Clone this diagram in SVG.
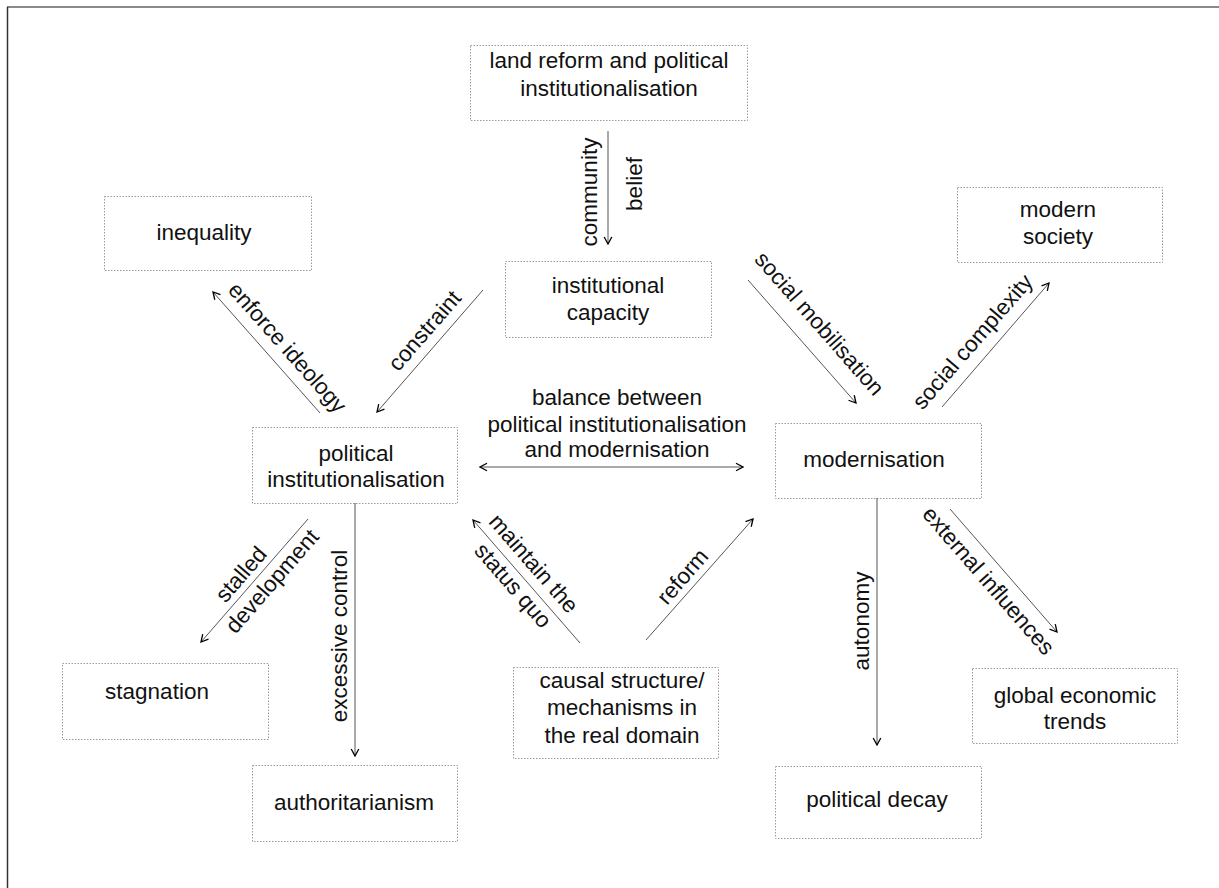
<svg xmlns="http://www.w3.org/2000/svg" width="1219" height="888" viewBox="0 0 1219 888">
  <style>
    .box { fill: #fff; stroke: #9a9a9a; stroke-width: 1; stroke-dasharray: 1.5 1.5; }
    .lbl { font-family: "Liberation Sans", Arial, sans-serif; font-size: 22.5px; fill: #111; text-anchor: middle; }
    .edge { fill: none; stroke: #555; stroke-width: 1; }
    .frame-top { stroke: #8a8a8a; stroke-width: 2; }
    .frame-left { stroke: #333; stroke-width: 1.5; }
  </style>
  <defs>
    <marker id="arr" markerWidth="10" markerHeight="10" refX="9" refY="5" orient="auto-start-reverse" markerUnits="userSpaceOnUse">
      <path d="M2,1.2 L9,5 L2,8.8" fill="none" stroke="#000" stroke-width="1.3"/>
    </marker>
  </defs>

  <rect x="0" y="0" width="1219" height="888" fill="#fff"/>

  <!-- page frame (top and left rules) -->
  <g id="frame">
    <line class="frame-top" x1="7" y1="7" x2="1219" y2="7"/>
    <line class="frame-left" x1="7.5" y1="7" x2="7.5" y2="888"/>
  </g>

  <!-- nodes -->
  <g id="land-reform">
    <rect class="box" x="470.5" y="45.5" width="277" height="75"/>
    <text class="lbl" x="609" y="68">land reform and political</text>
    <text class="lbl" x="609" y="96">institutionalisation</text>
  </g>
  <g id="inequality">
    <rect class="box" x="104.5" y="196.5" width="207" height="74"/>
    <text class="lbl" x="204" y="240">inequality</text>
  </g>
  <g id="institutional-capacity">
    <rect class="box" x="505.5" y="261.5" width="206" height="76"/>
    <text class="lbl" x="608" y="293">institutional</text>
    <text class="lbl" x="608" y="320">capacity</text>
  </g>
  <g id="modern-society">
    <rect class="box" x="957.5" y="187.5" width="205" height="75"/>
    <text class="lbl" x="1058" y="217">modern</text>
    <text class="lbl" x="1058" y="244">society</text>
  </g>
  <g id="political-institutionalisation">
    <rect class="box" x="252.5" y="427.5" width="205" height="76"/>
    <text class="lbl" x="356" y="461">political</text>
    <text class="lbl" x="356" y="487">institutionalisation</text>
  </g>
  <g id="modernisation">
    <rect class="box" x="775.5" y="423.5" width="206" height="75"/>
    <text class="lbl" x="874" y="467">modernisation</text>
  </g>
  <g id="stagnation">
    <rect class="box" x="62.5" y="663.5" width="206" height="76"/>
    <text class="lbl" x="157" y="699">stagnation</text>
  </g>
  <g id="authoritarianism">
    <rect class="box" x="252.5" y="765.5" width="205" height="76"/>
    <text class="lbl" x="354" y="810">authoritarianism</text>
  </g>
  <g id="causal-structure">
    <rect class="box" x="513.5" y="667.5" width="205" height="91"/>
    <text class="lbl" x="622" y="688">causal structure/</text>
    <text class="lbl" x="622" y="715">mechanisms in</text>
    <text class="lbl" x="622" y="743">the real domain</text>
  </g>
  <g id="global-economic-trends">
    <rect class="box" x="972.5" y="668.5" width="205" height="75"/>
    <text class="lbl" x="1075" y="703">global economic</text>
    <text class="lbl" x="1075" y="729">trends</text>
  </g>
  <g id="political-decay">
    <rect class="box" x="775.5" y="766.5" width="206" height="72"/>
    <text class="lbl" x="877" y="807">political decay</text>
  </g>

  <!-- connectors -->
  <g id="connectors">
    <line class="edge" x1="608" y1="131" x2="608" y2="244" marker-end="url(#arr)"/>
    <line class="edge" x1="483" y1="290" x2="377" y2="412" marker-end="url(#arr)"/>
    <line class="edge" x1="320" y1="413" x2="213" y2="292" marker-end="url(#arr)"/>
    <line class="edge" x1="748" y1="280" x2="856" y2="403" marker-end="url(#arr)"/>
    <line class="edge" x1="942" y1="407" x2="1049" y2="283" marker-end="url(#arr)"/>
    <line class="edge" x1="480" y1="467" x2="743" y2="467" marker-start="url(#arr)" marker-end="url(#arr)"/>
    <line class="edge" x1="355" y1="503" x2="355" y2="756" marker-end="url(#arr)"/>
    <line class="edge" x1="308" y1="519" x2="201" y2="642" marker-end="url(#arr)"/>
    <line class="edge" x1="580" y1="643" x2="473" y2="520" marker-end="url(#arr)"/>
    <line class="edge" x1="646" y1="640" x2="753" y2="519" marker-end="url(#arr)"/>
    <line class="edge" x1="877" y1="498" x2="877" y2="745" marker-end="url(#arr)"/>
    <line class="edge" x1="950" y1="509" x2="1057" y2="632" marker-end="url(#arr)"/>

    <!-- connector labels -->
    <text class="lbl" transform="translate(597,192) rotate(-90)" x="0" y="0">community</text>
    <text class="lbl" transform="translate(642,184) rotate(-90)" x="0" y="0">belief</text>
    <text class="lbl" transform="translate(425,331) rotate(-49)" x="0" y="7">constraint</text>
    <text class="lbl" transform="translate(287,348) rotate(48.5)" x="0" y="7">enforce ideology</text>
    <text class="lbl" transform="translate(819,324) rotate(48.7)" x="0" y="7">social mobilisation</text>
    <text class="lbl" transform="translate(973,342) rotate(-49)" x="0" y="7">social complexity</text>
    <text class="lbl" x="617" y="405">balance between</text>
    <text class="lbl" x="617" y="432">political institutionalisation</text>
    <text class="lbl" x="617" y="457">and modernisation</text>
    <text class="lbl" transform="translate(347,636) rotate(-90)" x="0" y="0">excessive control</text>
    <text class="lbl" transform="translate(258,577) rotate(-49)">
      <tspan x="-6" y="-7">stalled</tspan>
      <tspan x="6" y="21">development</tspan>
    </text>
    <text class="lbl" transform="translate(524,576) rotate(49)">
      <tspan x="0" y="-8">maintain the</tspan>
      <tspan x="0" y="22">status quo</tspan>
    </text>
    <text class="lbl" transform="translate(683,577) rotate(-49)" x="0" y="7">reform</text>
    <text class="lbl" transform="translate(869,621) rotate(-90)" x="0" y="0">autonomy</text>
    <text class="lbl" transform="translate(988,581) rotate(49)" x="0" y="7">external influences</text>
  </g>
</svg>
